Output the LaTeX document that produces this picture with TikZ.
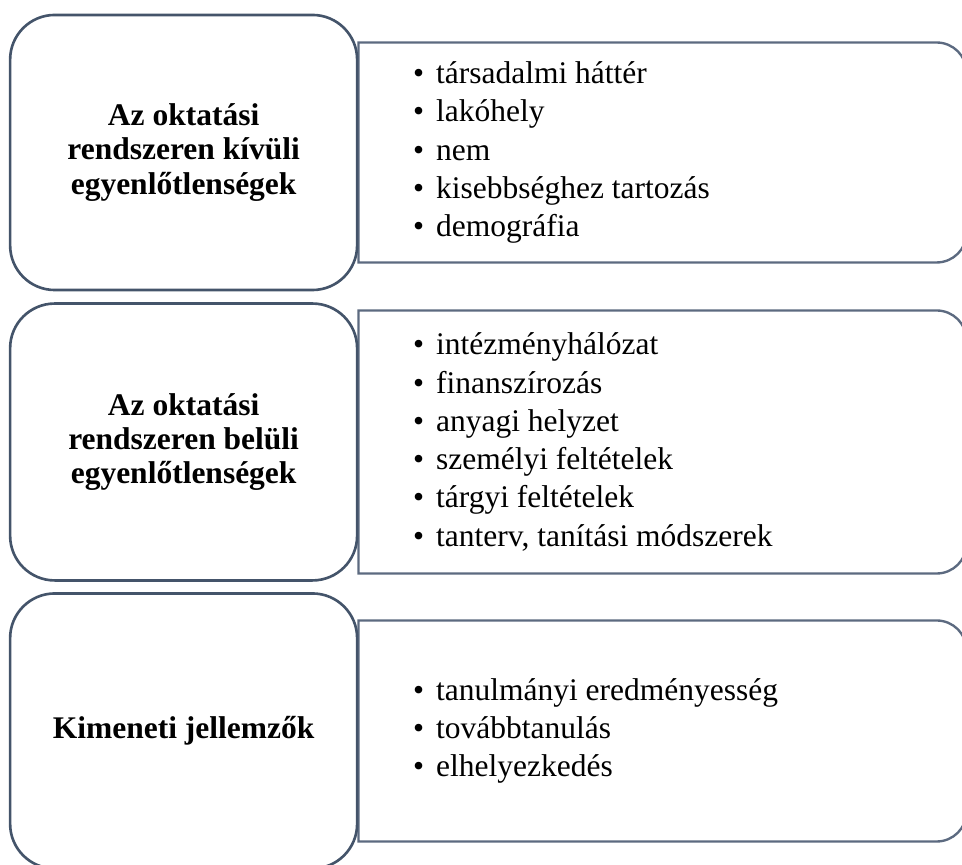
\documentclass[tikz,border=0pt]{standalone}
\usepackage{fontspec}
\setmainfont{Liberation Serif}
\usepackage{xcolor}
\usetikzlibrary{positioning}
\definecolor{myslate}{RGB}{68,84,106}
\definecolor{mygrayblue}{RGB}{92,106,128}
\newcommand{\itm}[1]{\makebox[8.8pt][l]{\textbullet}#1}
\begin{document}
\begin{tikzpicture}[x=0.381pt,y=0.381pt,
titlebox/.style={draw=myslate, line width=1pt, fill=white, rounded corners=17pt,
  minimum width=132.2pt, minimum height=104.8pt, align=center, inner sep=0pt,
  font=\fontsize{12}{13}\selectfont\bfseries},
listbox/.style={minimum width=231.3pt, inner sep=0pt},
listline/.style={draw=mygrayblue, line width=0.9pt},
listtext/.style={align=left, inner sep=0pt, font=\fontsize{12}{14.6}\selectfont}]
\useasboundingbox (0,0) rectangle (962,865);
\clip (0,0) rectangle (962,865);
\node [listbox, minimum height=83.4pt] (list1) at (662.5,712.5) {};
\node [listbox, minimum height=99.8pt] (list2) at (662.5,423) {};
\node [listbox, minimum height=83.8pt] (list3) at (662.5,134) {};
\foreach \n in {list1,list2,list3}
  \draw [listline] (\n.north west) -- ([xshift=-11.4pt]\n.north east)
    arc[start angle=90, end angle=0, radius=11.4pt] -- ([yshift=11.4pt]\n.south east)
    arc[start angle=0, end angle=-90, radius=11.4pt] -- (\n.south west) -- cycle;
\node [titlebox, left=0pt of list1] (title1) {Az oktatási\\rendszeren kívüli\\egyenlőtlenségek};
\node [titlebox, left=0pt of list2, minimum height=105.5pt] (title2) {Az oktatási\\rendszeren belüli\\egyenlőtlenségek};
\node [titlebox, left=0pt of list3] (title3) {Kimeneti jellemzők};
\node [listtext, right=20.6pt of list1.west] (items1) {\itm{társadalmi háttér}\\\itm{lakóhely}\\\itm{nem}\\\itm{kisebbséghez tartozás}\\\itm{demográfia}};
\node [listtext, right=20.6pt of list2.west] (items2) {\itm{intézményhálózat}\\\itm{finanszírozás}\\\itm{anyagi helyzet}\\\itm{személyi feltételek}\\\itm{tárgyi feltételek}\\\itm{tanterv, tanítási módszerek}};
\node [listtext, right=20.6pt of list3.west] (items3) {\itm{tanulmányi eredményesség}\\\itm{továbbtanulás}\\\itm{elhelyezkedés}};
\end{tikzpicture}
\end{document}
